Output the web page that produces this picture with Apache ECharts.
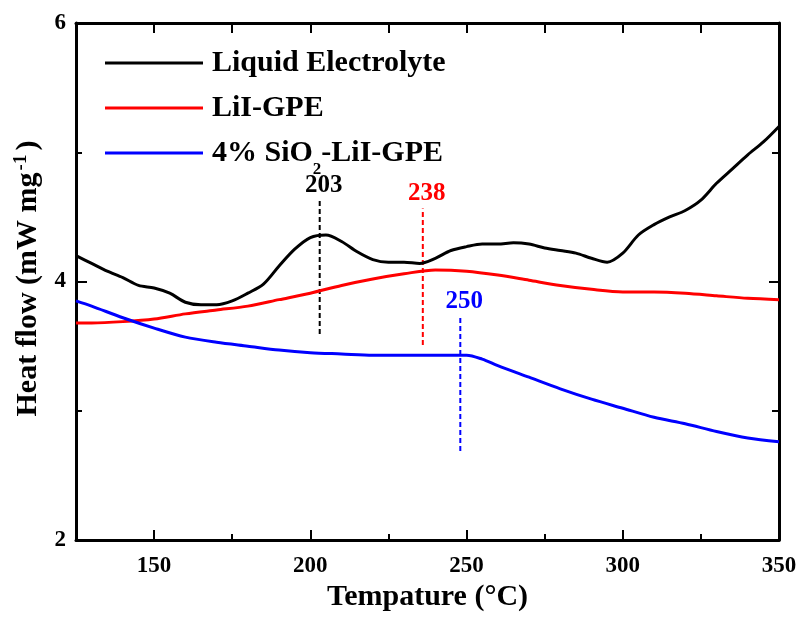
<!DOCTYPE html>
<html>
<head>
<meta charset="utf-8">
<script src="https://cdn.jsdelivr.net/npm/echarts@6/dist/echarts.min.js"></script>
<style>
  html, body { margin: 0; padding: 0; background: #fff; }
  #chart { width: 800px; height: 617px; }
</style>
</head>
<body>
<div id="chart"></div>
<script>
// 数据
const seriesNames = ['Liquid Electrolyte', 'LiI-GPE', '4% SiO2-LiI-GPE'];

const liquidX = [125, 130, 135, 140, 145, 150, 155, 160, 165, 170, 175, 180, 185, 190, 195, 200, 205, 210, 215, 220, 225, 230, 235, 240, 245, 250, 255, 260, 265, 270, 275, 280, 285, 290, 295, 300, 305, 310, 315, 320, 325, 330, 335, 340, 345, 350];
const liquidY = [4.20, 4.14, 4.08, 4.03, 3.97, 3.95, 3.91, 3.84, 3.82, 3.82, 3.85, 3.91, 3.98, 4.12, 4.25, 4.34, 4.36, 4.31, 4.23, 4.17, 4.15, 4.15, 4.14, 4.18, 4.24, 4.27, 4.29, 4.29, 4.30, 4.29, 4.26, 4.24, 4.22, 4.18, 4.15, 4.22, 4.36, 4.44, 4.50, 4.55, 4.63, 4.76, 4.87, 4.98, 5.08, 5.20];

const lilX = [125, 130, 140, 150, 160, 170, 180, 190, 200, 210, 220, 230, 240, 250, 260, 270, 280, 290, 300, 310, 320, 330, 340, 350];
const lilY = [3.68, 3.68, 3.69, 3.71, 3.75, 3.78, 3.81, 3.86, 3.91, 3.97, 4.02, 4.06, 4.09, 4.08, 4.05, 4.01, 3.97, 3.94, 3.92, 3.92, 3.91, 3.89, 3.87, 3.86];

const sioX = [125, 130, 140, 150, 160, 170, 180, 190, 200, 210, 220, 230, 240, 250, 255, 260, 270, 280, 290, 300, 310, 320, 330, 340, 350];
const sioY = [3.85, 3.81, 3.72, 3.64, 3.57, 3.53, 3.50, 3.47, 3.45, 3.44, 3.43, 3.43, 3.43, 3.43, 3.40, 3.35, 3.26, 3.17, 3.09, 3.02, 2.95, 2.90, 2.84, 2.79, 2.76];

// 峰值标注
const peakLabels = ['203', '238', '250'];
const peakX = [203, 236, 248];
const peakTop = [4.63, 4.565, 3.73];
const peakBottom = [3.595, 3.51, 2.69];

const xTickLabels = [150, 200, 250, 300, 350];
const xMajorTicks = [150, 200, 250, 300];
const xMinorTicks = [175, 225, 275, 325];
const xTopTicks = [150, 175, 200, 225, 250, 275, 300, 325];
const yTickLabels = [2, 4, 6];
const yMajorTicks = [4];
const yMinorTicks = [3, 5];

const colors = ['#000000', '#ff0000', '#0000ff'];
const FONT = 'Liberation Serif';

function zip(xs, ys) {
    return xs.map((x, i) => [x, ys[i]]);
}

const chart = echarts.init(document.getElementById('chart'));

const baseAxis = {
    type: 'value',
    splitLine: { show: false },
    axisLine: { show: true, onZero: false, lineStyle: { color: '#000', width: 3 } },
    axisLabel: { show: false },
    axisTick: { show: true, inside: true, length: 10, lineStyle: { color: '#000', width: 2 } }
};

function xAxisOf(extra) {
    return Object.assign({}, baseAxis, { min: 125, max: 350 }, extra);
}
function yAxisOf(extra) {
    return Object.assign({}, baseAxis, { min: 2, max: 6 }, extra);
}

const tickLabelStyle = { show: true, color: '#000', fontFamily: FONT, fontWeight: 'bold', fontSize: 23 };

const lineSeries = [
    { name: seriesNames[0], data: zip(liquidX, liquidY) },
    { name: seriesNames[1], data: zip(lilX, lilY) },
    { name: seriesNames[2], data: zip(sioX, sioY) }
].map((s, i) => ({
    name: s.name,
    type: 'line',
    data: s.data,
    smooth: 0.3,
    symbol: 'none',
    color: colors[i],
    lineStyle: { color: colors[i], width: 3 },
    z: 3
}));

const peakSeries = peakLabels.map((lab, i) => ({
    name: 'peak' + lab,
    type: 'line',
    symbol: 'circle',
    symbolSize: 0,
    color: colors[i],
    lineStyle: { color: colors[i], width: 2, type: [5, 3] },
    data: [
        [peakX[i], peakBottom[i]],
        {
            value: [peakX[i], peakTop[i]],
            label: {
                show: true,
                position: 'top',
                distance: 2,
                offset: [4, 0],
                formatter: lab,
                color: colors[i],
                fontFamily: FONT,
                fontWeight: 'bold',
                fontSize: 25
            }
        }
    ],
    z: 2
}));

const option = {
    backgroundColor: '#fff',
    animation: false,
    grid: { left: 76, right: 21, top: 23, bottom: 70, containLabel: false },
    legend: {
        data: seriesNames,
        orient: 'vertical',
        left: 100,
        top: 43,
        icon: 'rect',
        itemWidth: 98,
        itemHeight: 3,
        itemGap: 15,
        formatter: function (name) {
            if (name === seriesNames[2]) {
                return '{n|4% SiO}{s|2}{n|-LiI-GPE}';
            }
            return '{n|' + name + '}';
        },
        textStyle: {
            padding: [0, 0, 0, 4],
            rich: {
                n: { fontFamily: FONT, fontWeight: 'bold', fontSize: 30, color: '#000', lineHeight: 50 },
                s: { fontFamily: FONT, fontWeight: 'bold', fontSize: 17, color: '#000', verticalAlign: 'bottom' }
            }
        }
    },
    xAxis: [
        xAxisOf({
            position: 'bottom',
            axisTick: Object.assign({}, baseAxis.axisTick, { customValues: xMajorTicks }),
            axisLabel: Object.assign({}, tickLabelStyle, { customValues: xTickLabels, margin: 14 }),
            name: 'Tempature (°C)',
            nameLocation: 'middle',
            nameGap: 38,
            nameTextStyle: { color: '#000', fontFamily: FONT, fontWeight: 'bold', fontSize: 30 }
        }),
        xAxisOf({
            position: 'bottom',
            axisLine: { show: false },
            axisTick: Object.assign({}, baseAxis.axisTick, { length: 6, customValues: xMinorTicks })
        }),
        xAxisOf({
            position: 'top',
            axisTick: Object.assign({}, baseAxis.axisTick, { customValues: xTopTicks })
        })
    ],
    yAxis: [
        yAxisOf({
            position: 'left',
            axisTick: Object.assign({}, baseAxis.axisTick, { length: 11, customValues: yMajorTicks }),
            axisLabel: Object.assign({}, tickLabelStyle, { customValues: yTickLabels, margin: 10 }),
            name: '{a|Heat flow (mW mg}{b|-1}{a|)}',
            nameLocation: 'middle',
            nameGap: 28,
            nameTextStyle: {
                padding: [0, 0, 0, 6],
                rich: {
                    a: { color: '#000', fontFamily: FONT, fontWeight: 'bold', fontSize: 30, lineHeight: 34 },
                    b: { color: '#000', fontFamily: FONT, fontWeight: 'bold', fontSize: 19, lineHeight: 12, verticalAlign: 'top', padding: [0, 4, 0, 2] }
                }
            }
        }),
        yAxisOf({
            position: 'left',
            axisLine: { show: false },
            axisTick: Object.assign({}, baseAxis.axisTick, { length: 6, customValues: yMinorTicks })
        }),
        yAxisOf({
            position: 'right',
            axisTick: Object.assign({}, baseAxis.axisTick, { customValues: yMajorTicks })
        }),
        yAxisOf({
            position: 'right',
            axisLine: { show: false },
            axisTick: Object.assign({}, baseAxis.axisTick, { length: 7, customValues: yMinorTicks })
        })
    ],
    series: lineSeries.concat(peakSeries)
};

chart.setOption(option);
window.addEventListener('resize', () => chart.resize());
</script>
</body>
</html>
